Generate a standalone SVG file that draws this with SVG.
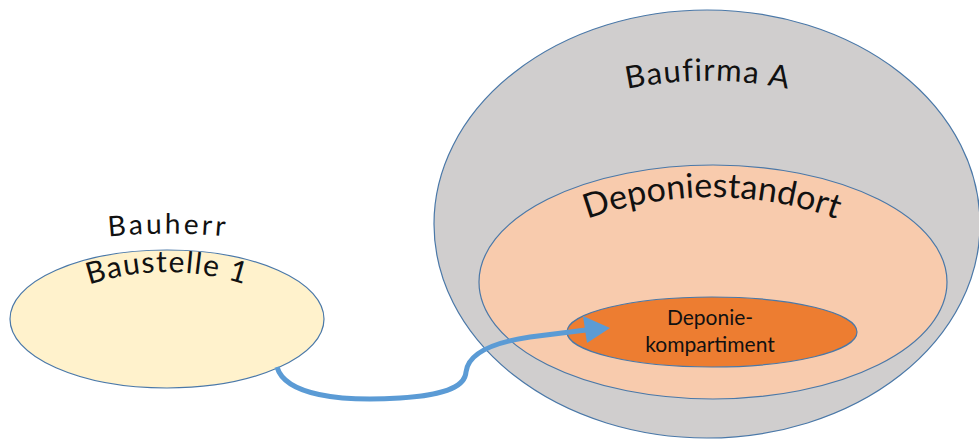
<svg xmlns="http://www.w3.org/2000/svg" xmlns:xlink="http://www.w3.org/1999/xlink" width="979" height="440" viewBox="0 0 979 440">
<style>
.node{stroke:#4a78a8;stroke-width:1.2}
.lbl{font-family:Lato,"Open Sans","Liberation Sans",sans-serif;fill:#111}
</style>
<defs>
<path id="pBauherr" d="M 68 242 A 600 600 0 0 1 268 242"/>
<path id="pBaustelle" d="M 27 315 A 250 250 0 0 1 307 315"/>
<path id="pBaufirma" d="M 588 99 A 404 404 0 0 1 828 99"/>
<path id="pDeponie" d="M 552 234 A 366 366 0 0 1 872 234"/>
</defs>
<rect width="979" height="440" fill="#ffffff"/>
<g id="baufirma">
<ellipse class="node" cx="707" cy="224" rx="273" ry="214" fill="#D0CECE"/>
<text class="lbl" font-size="31" letter-spacing="1.2"><textPath xlink:href="#pBaufirma" startOffset="50%" text-anchor="middle">Baufirma A</textPath></text>
</g>
<g id="deponiestandort">
<ellipse class="node" cx="713" cy="282" rx="234" ry="117" fill="#F8CBAD"/>
<text class="lbl" font-size="34" letter-spacing="0.1"><textPath xlink:href="#pDeponie" startOffset="50%" text-anchor="middle">Deponiestandort</textPath></text>
</g>
<g id="kompartiment">
<ellipse class="node" cx="712" cy="332" rx="145" ry="35" fill="#ED7D31"/>
<text class="lbl" font-size="21" x="710" y="325" text-anchor="middle">Deponie-</text>
<text class="lbl" font-size="21" x="710" y="352" text-anchor="middle">kompartiment</text>
</g>
<g id="baustelle">
<ellipse class="node" cx="167" cy="319" rx="157" ry="69" fill="#FFF2CC"/>
<text class="lbl" font-size="28" letter-spacing="3"><textPath xlink:href="#pBauherr" startOffset="50%" text-anchor="middle">Bauherr</textPath></text>
<text class="lbl" font-size="30" letter-spacing="1.2"><textPath xlink:href="#pBaustelle" startOffset="50%" text-anchor="middle">Baustelle 1</textPath></text>
</g>
<g id="connectors">
<path d="M 277 367 C 285 395, 340 402, 400 398 C 450 395, 465 385, 466 372 C 468 355, 490 343, 530 337 L 586 330" fill="none" stroke="#5B9BD5" stroke-width="5"/>
<polygon points="610,328 583,316 587,343" fill="#5B9BD5"/>
</g>
</svg>
